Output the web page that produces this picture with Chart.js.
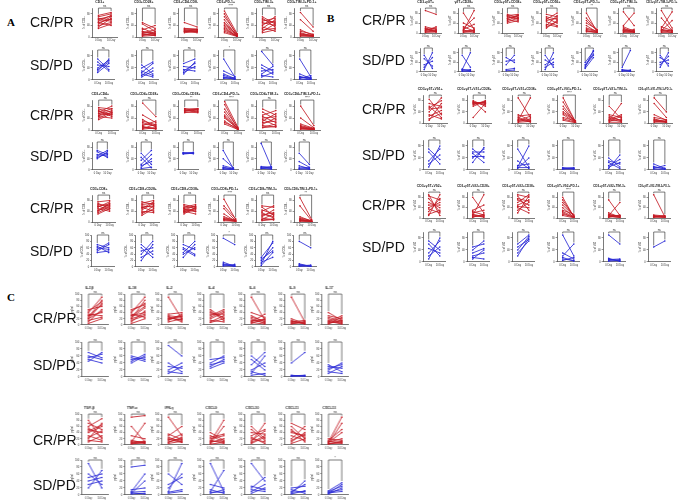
<!DOCTYPE html>
<html>
<head>
<meta charset="utf-8">
<script src="https://cdn.jsdelivr.net/npm/chart.js@4.4.1/dist/chart.umd.min.js"></script>
<style>
body { margin: 0; background: #fff; width: 685px; height: 504px; position: relative; overflow: hidden; font-family: "Liberation Sans", Arial, sans-serif; }
.lbl { position: absolute; font-size: 14px; line-height: 14px; color: #111; white-space: nowrap; }
.let { position: absolute; font-family: "Liberation Serif", serif; font-weight: bold; font-size: 11px; color: #000; }
canvas { position: absolute; }
</style>
</head>
<body>
<div class="let" style="left:7px;top:16px">A</div>
<div class="let" style="left:327px;top:12px">B</div>
<div class="let" style="left:7px;top:291px">C</div>
<script>
const dayLabels = ['0 Day', '10 Day']
const redCol = 'rgb(196,28,38)'
const blueCol = 'rgb(42,42,214)'

// ---- panel A ----
const titlesA1 = ['CD3+', 'CD3+CD28+', 'CD3+CD4-CD8-', 'CD3+PD-1+', 'CD3+TIM-3+', 'CD3+TIM-3+PD-1+']
const titlesA3 = ['CD3+CD4+', 'CD3+CD4+CD28+', 'CD3+CD4+CD38+', 'CD3+CD4+PD-1+', 'CD3+CD4+TIM-3+', 'CD3+CD4+TIM-3+PD-1+']
const titlesA5 = ['CD3+CD8+', 'CD3+CD8+CD28+', 'CD3+CD8+CD38+', 'CD3+CD8+PD-1+', 'CD3+CD8+TIM-3+', 'CD3+CD8+TIM-3+PD-1+']

const redA1 = [
  [45,70, 60,55, 35,65, 70,80, 50,40, 55,75, 40,50, 65,60, 75,85, 30,45, 50,62, 62,72],
  [10,5, 20,8, 5,15, 30,12, 45,20, 15,25, 8,10, 25,40, 12,18, 50,30, 3,6, 18,12],
  [20,25, 25,20, 18,22, 30,28, 22,18, 15,20, 28,25, 50,35, 24,26, 20,15],
  [80,5, 60,3, 45,8, 30,2, 70,10, 25,4, 50,6, 35,1, 20,3, 90,12, 15,2, 40,5],
  [30,60, 50,40, 20,45, 65,35, 40,70, 25,30, 55,65, 35,20, 45,55, 60,50, 15,25, 70,45],
  [85,35, 60,20, 10,5, 15,3, 5,8, 8,2, 20,10, 12,4, 3,2, 25,6]
]
const blueA2 = [
  [30,70, 60,30, 40,65, 70,35, 25,55, 50,45, 35,60],
  [15,40, 50,20, 25,55, 10,30, 40,60, 20,10, 30,15],
  [30,55, 45,40, 20,60, 55,70, 35,30, 25,45],
  [70,10, 20,5, 10,2, 5,8, 30,12, 15,4, 8,3],
  [95,50, 40,20, 20,45, 30,35, 10,25, 50,30, 15,10],
  [70,10, 20,5, 10,2, 5,15, 12,4, 8,8, 3,1]
]
const redA3 = [
  [50,65, 65,45, 40,60, 75,70, 55,50, 35,55, 60,80, 45,40, 70,60, 55,72, 48,58, 62,52],
  [10,5, 25,12, 5,20, 35,10, 15,30, 8,6, 50,25, 20,15, 3,8, 12,3, 30,18, 90,45],
  [62,70, 68,60, 70,72, 58,65, 65,68, 72,62, 60,58, 66,70],
  [85,3, 60,2, 40,5, 70,8, 30,1, 50,4, 20,2, 95,10, 25,6, 45,3],
  [20,40, 45,25, 10,20, 60,35, 30,55, 15,10, 50,65, 25,30, 35,15, 40,45, 8,12, 70,50],
  [80,15, 40,8, 10,3, 5,2, 15,5, 8,1, 20,6, 3,2, 12,4, 6,3]
]
const blueA4 = [
  [50,70, 65,45, 45,60, 70,55, 55,50, 40,65],
  [10,40, 60,20, 20,55, 5,10, 35,70, 15,30, 45,8],
  [58,62, 62,58, 60,63, 57,60, 61,59],
  [70,5, 40,8, 10,3, 5,2, 15,6, 3,1, 8,4],
  [95,10, 10,8, 5,12, 8,5, 12,10, 6,3],
  [60,20, 30,10, 15,5, 5,2, 10,8, 3,6]
]
const redA5 = [
  [40,70, 60,45, 35,55, 75,80, 50,40, 45,65, 65,60, 30,50, 55,75, 70,50, 42,60, 58,68],
  [30,60, 55,40, 70,80, 45,70, 25,50, 60,55, 40,35, 75,65, 50,75, 35,45, 65,70, 55,60],
  [30,55, 50,40, 45,60, 60,50, 35,45, 55,65, 40,30, 65,55, 42,48, 48,38, 38,52, 52,58],
  [85,10, 50,5, 30,3, 15,8, 10,2, 20,4, 8,6, 60,12, 5,3, 12,5],
  [10,30, 35,15, 55,25, 20,45, 5,10, 40,60, 15,8, 30,20, 25,35, 8,12, 45,30, 60,55],
  [90,10, 60,5, 20,3, 8,2, 5,4, 12,3, 3,1, 15,6, 10,2, 6,3]
]
const blueA6 = [
  [50,70, 60,55, 70,60, 45,50, 55,75, 65,45],
  [20,70, 60,30, 40,80, 30,50, 70,40, 50,60],
  [30,70, 60,40, 45,80, 70,55, 40,60, 55,35],
  [90,70, 10,3, 5,8, 15,2, 3,5, 8,1],
  [10,80, 20,60, 5,45, 30,75, 15,30, 25,50],
  [80,60, 8,3, 5,2, 3,6, 10,1, 2,4]
]
const sigA = [
  ['ns', 'ns', 'ns', '****', 'ns', 'ns'],
  ['ns', 'ns', 'ns', '*', 'ns', 'ns'],
  ['ns', 'ns', '**', '****', 'ns', '****'],
  ['ns', 'ns', 'ns', 'ns', 'ns', 'ns'],
  ['ns', 'ns', 'ns', '****', 'ns', '**'],
  ['ns', 'ns', 'ns', '*', 'ns', 'ns']
]

// ---- panel B ----
const titlesB1 = ['CD3+γδT+', 'γδT+CD28+', 'CD3+γδT+CD38+', 'CD3+γδT+CD56+', 'CD3+γδT+PD-1+', 'CD3+γδT+TIM-3+', 'CD3+γδT+TIM-3+PD-1+']
const titlesB3 = ['CD3+γδT+Vδ1+', 'CD3+γδT+Vδ1+CD28+', 'CD3+γδT+Vδ1+CD38+', 'CD3+γδT+Vδ1+PD-1+', 'CD3+γδT+Vδ1+TIM-3+', 'CD3+γδT+Vδ1+TIM-3+PD-1+']
const titlesB5 = ['CD3+γδT+Vδ2+', 'CD3+γδT+Vδ2+CD28+', 'CD3+γδT+Vδ2+CD38+', 'CD3+γδT+Vδ2+PD-1+', 'CD3+γδT+Vδ2+TIM-3+', 'CD3+γδT+Vδ2+TIM-3+PD-1+']

const redB1 = [
  [90,75, 20,10, 10,25, 5,8, 15,5, 25,15, 8,12, 3,4, 12,20, 18,6],
  [10,90, 80,15, 20,60, 5,10, 40,20, 15,35, 3,5, 8,12, 25,8, 12,3],
  [50,70, 65,55, 45,60, 70,75, 55,45, 60,68, 75,62, 40,50, 58,72, 68,58],
  [30,70, 60,40, 20,50, 75,65, 45,30, 55,80, 35,25, 65,55, 25,45, 50,60],
  [80,5, 50,10, 30,3, 20,8, 10,2, 40,15, 5,4, 15,6, 60,12, 8,3],
  [85,30, 30,80, 10,5, 5,15, 20,3, 15,10, 3,2, 8,6, 12,4, 25,8],
  [90,20, 20,85, 60,10, 10,50, 5,3, 15,8, 8,12, 3,5, 12,2, 25,10]
]
const blueB2 = [
  [10,80, 70,15, 20,60, 55,25, 30,45],
  [10,80, 5,3, 8,10, 3,5, 12,4, 70,20],
  [30,70, 60,40, 10,15, 5,8, 45,50],
  [10,80, 70,20, 30,55, 50,30, 20,40],
  [20,90, 30,75, 15,60, 40,85, 25,70],
  [20,90, 5,3, 3,8, 8,2, 10,6],
  [20,80, 70,25, 30,65, 60,35, 40,50]
]
const redB3 = [
  [10,70, 60,20, 40,90, 85,30, 25,45, 50,55, 30,15, 70,60, 15,35, 55,80],
  [70,75, 75,70, 65,80, 80,60, 72,72, 60,78, 20,70, 78,40, 68,75, 74,65],
  [10,90, 90,20, 20,5, 5,15, 15,8, 30,10, 8,25, 25,30, 3,6, 12,4],
  [90,5, 60,3, 40,10, 30,2, 20,8, 75,6, 10,1, 50,4, 15,3, 35,7],
  [10,70, 60,15, 20,10, 5,25, 15,5, 30,20, 8,12, 25,8, 3,3, 12,30],
  [90,40, 70,20, 30,10, 10,5, 5,8, 15,3, 20,12, 8,2, 3,4, 12,6]
]
const blueB4 = [
  [10,80, 60,20, 30,70, 70,35, 20,50],
  [25,75, 60,60, 40,70, 70,40, 55,25, 45,45],
  [10,80, 70,10, 5,40, 30,5, 15,20, 8,8],
  [5,8, 3,4, 8,5, 4,6, 6,3],
  [5,50, 40,10, 15,35, 30,20, 10,25, 25,5],
  [20,5, 5,15, 3,2, 8,6, 12,3]
]
const redB5 = [
  [10,90, 90,10, 40,60, 60,40, 25,75, 75,25, 50,50, 15,30, 85,70, 35,20],
  [10,90, 80,20, 30,50, 5,10, 15,5, 20,30, 8,8, 3,15, 25,12, 12,3],
  [20,85, 85,30, 50,70, 70,50, 30,60, 60,90, 40,20, 90,80, 75,65, 45,40],
  [80,5, 60,10, 40,3, 30,15, 20,2, 50,8, 15,4, 70,6, 10,1, 25,5],
  [70,10, 10,60, 5,8, 8,3, 15,5, 3,12, 12,6, 20,4, 6,2, 10,10],
  [90,5, 8,3, 5,10, 3,6, 10,4, 6,2, 12,8, 4,5]
]
const blueB6 = [
  [10,80, 60,20, 30,70, 70,40, 20,50, 45,30],
  [10,40, 40,70, 20,30, 50,60, 15,10, 30,45],
  [20,80, 40,85, 30,70, 60,90, 50,75],
  [90,20, 20,60, 10,5, 5,15, 15,3, 30,10],
  [90,60, 10,3, 5,8, 3,5, 12,2, 8,10],
  [50,70]
]
const sigB = [
  ['ns', 'ns', 'ns', 'ns', '**', 'ns', 'ns'],
  ['ns', 'ns', 'ns', 'ns', 'ns', 'ns', 'ns'],
  ['ns', 'ns', 'ns', '****', 'ns', 'ns'],
  ['ns', 'ns', 'ns', 'ns', 'ns', 'ns'],
  ['ns', 'ns', 'ns', '****', 'ns', 'ns'],
  ['ns', 'ns', 'ns', 'ns', 'ns', 'ns']
]

// ---- panel C ----
const titlesC1 = ['IL-1β', 'IL-18', 'IL-2', 'IL-4', 'IL-6', 'IL-9', 'IL-17']
const titlesC3 = ['TGF-β', 'TNF-α', 'IFN-γ', 'CXCL9', 'CXCL10', 'CXCL11', 'CXCL13']

const redC1 = [
  [10,50, 20,70, 30,40, 40,90, 15,25, 50,60, 25,80, 35,30, 5,20, 45,75, 20,45, 30,65],
  [10,45, 20,80, 30,40, 40,90, 15,30, 50,65, 25,55, 35,25, 5,20, 45,70, 20,35, 30,60],
  [90,20, 20,30, 25,15, 15,35, 30,25, 10,20, 35,40, 22,18, 18,28, 28,10],
  [20,40, 40,25, 10,30, 30,50, 50,20, 15,10, 25,45, 35,35, 45,15, 8,20],
  [90,15, 30,10, 10,35, 20,5, 5,20, 15,8, 40,25, 8,3, 25,12, 12,18],
  [90,10, 20,5, 10,15, 5,8, 15,3, 3,12, 8,6, 12,4],
  [40,15, 10,30, 20,8, 5,15, 15,5, 30,20, 8,10, 3,25, 25,12, 12,3]
]
const blueC2 = [
  [60,50, 45,70, 70,55, 50,40, 55,65],
  [45,65, 60,50, 50,55, 40,60, 55,45],
  [90,60, 20,40, 40,15, 10,30, 30,25, 15,10],
  [30,50, 40,60, 35,45, 50,55, 25,40],
  [10,60, 50,20, 20,40, 5,10, 35,70, 60,30, 15,5],
  [40,70, 3,5, 5,2, 2,4, 4,3],
  [20,40, 35,15, 10,30, 30,25, 15,10, 25,35]
]
const redC3 = [
  [80,20, 20,70, 50,40, 60,85, 30,15, 40,60, 70,50, 10,30, 55,25, 25,45, 45,65, 15,10],
  [90,95, 10,70, 60,10, 5,8, 8,5, 12,10, 6,12, 15,6, 3,9, 30,20],
  [90,30, 30,60, 10,20, 20,15, 15,35, 25,10, 8,25, 35,18, 5,12, 18,8],
  [10,80, 5,60, 30,10, 20,30, 15,5, 8,20, 40,15, 3,8, 25,35, 12,12],
  [10,70, 60,20, 30,50, 20,10, 40,35, 5,25, 15,45, 50,15, 25,5, 8,30],
  [70,50, 60,20, 20,60, 40,30, 10,40, 50,10, 30,15, 15,35, 45,25, 5,20],
  [10,90, 5,70, 15,50, 8,40, 3,10, 12,8, 20,15, 6,5, 10,20, 4,12]
]
const blueC4 = [
  [90,20, 20,70, 50,60, 30,40, 60,30, 40,50],
  [80,85, 10,60, 5,40, 8,10, 3,5, 15,20, 6,3],
  [10,90, 60,30, 20,60, 5,10, 30,50, 8,15],
  [90,10, 10,70, 30,20, 5,15, 15,5, 8,8],
  [90,40, 20,50, 10,30, 25,15, 5,20, 15,10],
  [5,40, 10,30, 20,25, 8,10, 15,5, 3,12],
  [5,30, 10,25, 3,20, 8,15, 12,35, 6,10]
]
const sigC = [
  ['ns', 'ns', 'ns', 'ns', 'ns', 'ns', 'ns'],
  ['ns', 'ns', 'ns', 'ns', 'ns', 'ns', 'ns'],
  ['ns', 'ns', 'ns', 'ns', 'ns', 'ns', 'ns'],
  ['ns', 'ns', 'ns', 'ns', 'ns', 'ns', '*']
]

// plot-area left edges per column (page px)
const colsA = [92, 136, 178, 218, 256, 294]
const colsB1 = [420, 458, 502, 541, 581, 618, 656]
const colsB3 = [423, 467, 512, 557, 603, 648]
const colsC = [82, 125, 162, 204, 245, 285, 322]

const bracket = {
  id: 'bracket',
  afterDatasetsDraw(chart, args, opts) {
    let ctx = chart.ctx
    let xs = chart.scales.x, ys = chart.scales.y
    let x0 = xs.getPixelForValue(0), x1 = xs.getPixelForValue(1)
    let m0 = 0, m1 = 0
    chart.data.datasets.forEach(d => { m0 = Math.max(m0, d.data[0]); m1 = Math.max(m1, d.data[1]) })
    let top = ys.getPixelForValue(100)
    ctx.save()
    ctx.strokeStyle = '#222'
    ctx.lineWidth = 0.6
    ctx.beginPath()
    ctx.moveTo(x0, ys.getPixelForValue(Math.min(m0 + 5, 98)))
    ctx.lineTo(x0, top)
    ctx.lineTo(x1, top)
    ctx.lineTo(x1, ys.getPixelForValue(Math.min(m1 + 5, 98)))
    ctx.stroke()
    ctx.fillStyle = '#222'
    ctx.font = '3px "Liberation Sans"'
    ctx.textAlign = 'center'
    ctx.textBaseline = 'bottom'
    ctx.fillText(opts.sig, (x0 + x1) / 2, top - 0.3)
    ctx.restore()
  }
}

function makePanel(plotLeft, plotW, plotTop, plotBottom, pairs, colour, title, sig, yTitle) {
  let plotH = plotBottom - plotTop
  let cv = document.createElement('canvas')
  cv.width = 120
  cv.height = 120
  document.body.appendChild(cv)
  let sets = []
  for (let i = 0; i < pairs.length; i += 2) {
    sets.push({data: [pairs[i], pairs[i + 1]], borderColor: colour, backgroundColor: colour,
      borderWidth: 0.85, pointRadius: 0.8, pointBorderWidth: 0})
  }
  let chart = new Chart(cv.getContext('2d'), {
    type: 'line',
    data: {labels: dayLabels, datasets: sets},
    options: {
      responsive: false, animation: false, events: [],
      layout: {padding: {top: title ? 0 : 4, right: 0, left: 0, bottom: 0}},
      plugins: {
        legend: {display: false}, tooltip: {enabled: false},
        title: {display: !!title, text: title, color: '#222', font: {size: 3.4, family: 'Liberation Sans'}, padding: {top: 0.5, bottom: 3.5}},
        bracket: {sig: sig}
      },
      scales: {
        x: {offset: true, grid: {display: false, drawTicks: false, tickLength: 0}, border: {color: '#222', width: 0.6},
          ticks: {font: {size: 2.6, family: 'Liberation Sans'}, color: '#333', padding: 1.5, maxRotation: 0, autoSkip: false}},
        y: {min: 0, max: 100, ticks: {stepSize: 20, font: {size: 2.6, family: 'Liberation Sans'}, color: '#333', padding: 0.8},
          grid: {drawOnChartArea: false, tickLength: 1.5, color: '#222', lineWidth: 0.5},
          border: {color: '#222', width: 0.6},
          title: {display: true, text: yTitle, font: {size: 2.6, family: 'Liberation Sans'}, color: '#333', padding: 0.5}}
      }
    },
    plugins: [bracket]
  })
  // fit canvas so the plot area lands on the wanted page box
  let ca = chart.chartArea
  let padL = ca.left, padT = ca.top, padB = cv.height - ca.bottom
  let padR = cv.width - ca.right
  chart.options.layout.padding.right = padL - padR
  chart.resize(padL + plotW + padL, padT + plotH + padB)
  chart.update()
  let ca2 = chart.chartArea
  cv.style.left = (plotLeft - ca2.left) + 'px'
  cv.style.top = (plotTop - ca2.top) + 'px'
}

function makeRow(cols, plotW, plotTop, plotBottom, rowData, colour, titles, sigs, yTitle) {
  rowData.forEach((pairs, i) => {
    makePanel(cols[i], plotW, plotTop, plotBottom, pairs, colour, titles ? titles[i] : '', sigs[i], yTitle)
  })
}

function addLabel(text, left, centreY) {
  let d = document.createElement('div')
  d.className = 'lbl'
  d.textContent = text
  d.style.left = left + 'px'
  d.style.top = (centreY - 7) + 'px'
  document.body.appendChild(d)
}

// panel A
makeRow(colsA, 22, 8, 37, redA1, redCol, titlesA1, sigA[0], '% of CD3+')
makeRow(colsA, 22, 50, 80, blueA2, blueCol, null, sigA[1], '% of CD3+')
makeRow(colsA, 22, 100, 130, redA3, redCol, titlesA3, sigA[2], '% of CD4+')
makeRow(colsA, 22, 142, 170, blueA4, blueCol, null, sigA[3], '% of CD4+')
makeRow(colsA, 22, 195, 222, redA5, redCol, titlesA5, sigA[4], '% of CD8+')
makeRow(colsA, 22, 235, 267, blueA6, blueCol, null, sigA[5], '% of CD8+')
addLabel('CR/PR', 30, 22); addLabel('SD/PD', 30, 65)
addLabel('CR/PR', 30, 115); addLabel('SD/PD', 30, 156)
addLabel('CR/PR', 30, 208); addLabel('SD/PD', 30, 251)

// panel B
makeRow(colsB1, 18, 8, 33, redB1, redCol, titlesB1, sigB[0], '% of γδT')
makeRow(colsB1, 18, 48, 72, blueB2, blueCol, null, sigB[1], '% of γδT')
makeRow(colsB3, 20, 95, 123, redB3, redCol, titlesB3, sigB[2], '% of Vδ1')
makeRow(colsB3, 20, 140, 170, blueB4, blueCol, null, sigB[3], '% of Vδ1')
makeRow(colsB3, 20, 192, 218, redB5, redCol, titlesB5, sigB[4], '% of Vδ2')
makeRow(colsB3, 20, 232, 262, blueB6, blueCol, null, sigB[5], '% of Vδ2')
addLabel('CR/PR', 362, 20); addLabel('SD/PD', 362, 60)
addLabel('CR/PR', 362, 109); addLabel('SD/PD', 362, 155)
addLabel('CR/PR', 362, 205); addLabel('SD/PD', 362, 247)

// panel C
makeRow(colsC, 22, 294, 330, redC1, redCol, titlesC1, sigC[0], 'pg/ml')
makeRow(colsC, 22, 342, 380, blueC2, blueCol, null, sigC[1], 'pg/ml')
makeRow(colsC, 22, 414, 450, redC3, redCol, titlesC3, sigC[2], 'pg/ml')
makeRow(colsC, 22, 460, 497, blueC4, blueCol, null, sigC[3], 'pg/ml')
addLabel('CR/PR', 33, 318); addLabel('SD/PD', 33, 365)
addLabel('CR/PR', 33, 440); addLabel('SD/PD', 33, 485)
</script>
</body>
</html>
